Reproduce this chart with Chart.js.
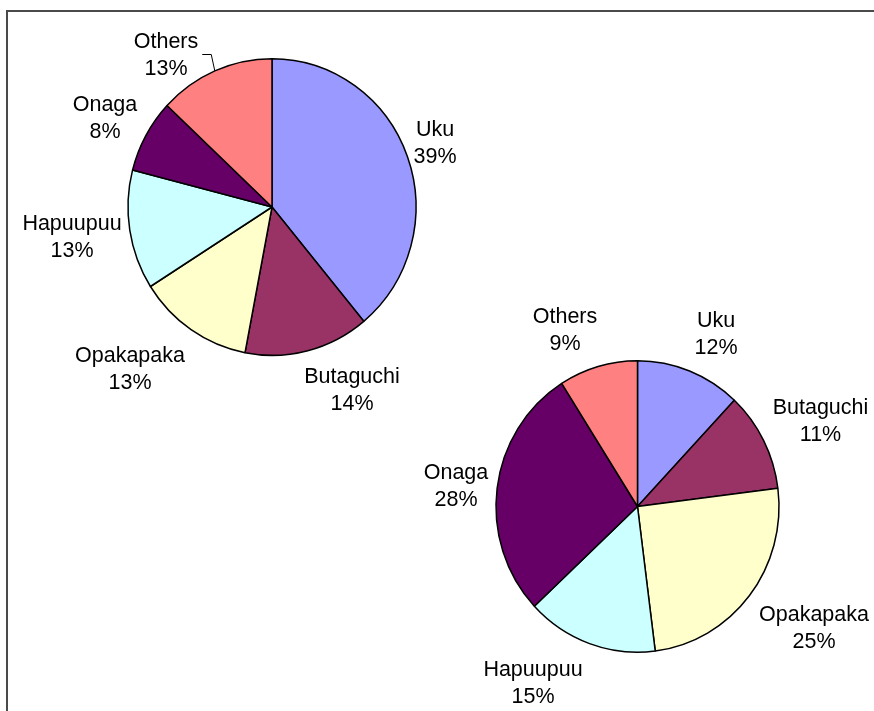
<!DOCTYPE html>
<html>
<head>
<meta charset="utf-8">
<script src="https://cdn.jsdelivr.net/npm/chart.js@4/dist/chart.umd.min.js"></script>
<style>
  html, body { margin: 0; padding: 0; background: #fff; }
  body { width: 874px; height: 711px; position: relative; overflow: hidden; }
  #frame {
    position: absolute; left: 6px; top: 10px; width: 900px; height: 720px;
    border-left: 2px solid #4a4a4a; border-top: 2px solid #4a4a4a;
  }
  canvas { position: absolute; left: 0; top: 0; }
</style>
</head>
<body>
<div id="frame"></div>
<canvas id="pieA" width="874" height="711"></canvas>
<canvas id="pieB" width="874" height="711"></canvas>
<script>
// categories (same for both pies)
const species = ['Uku', 'Butaguchi', 'Opakapaka', 'Hapuupuu', 'Onaga', 'Others'];
const sliceColors = ['#9999FF', '#993366', '#FFFFCC', '#CCFFFF', '#660066', '#FF8080'];

// share of each species, in percent
const catchA = [39, 14, 13, 13, 8, 13];
const catchB = [12, 11, 25, 15, 28, 9];

const W = 874, H = 711;
const STRETCH = 1.03; // the original pies are a touch taller than wide

// slightly stretch the pie vertically, like the Excel export
const stretchPie = {
  id: 'stretchPie',
  beforeDatasetsDraw(chart) {
    const arc = chart.getDatasetMeta(0).data[0];
    const ctx = chart.ctx;
    ctx.save();
    ctx.translate(arc.x, arc.y);
    ctx.scale(1, STRETCH);
    ctx.translate(-arc.x, -arc.y);
  },
  afterDatasetsDraw(chart) {
    chart.ctx.restore();
  }
};

// labels drawn outside the pie, like the Excel data labels
const outsideLabels = {
  id: 'outsideLabels',
  afterDraw(chart, args, opts) {
    const ctx = chart.ctx;
    const meta = chart.getDatasetMeta(0);
    const values = chart.data.datasets[0].data;
    const total = values.reduce((a, b) => a + b, 0);
    const fs = 21.5;
    ctx.save();
    ctx.font = fs + 'px "Liberation Sans", Arial, sans-serif';
    ctx.fillStyle = '#000';
    ctx.textAlign = 'center';
    ctx.textBaseline = 'alphabetic';
    meta.data.forEach((arc, i) => {
      const cx = arc.x, cy = arc.y;
      const off = opts.offsets[i];
      const bx = cx + off[0], by = cy + off[1];
      const name = chart.data.labels[i];
      const pct = Math.round(values[i] / total * 100) + '%';
      ctx.fillText(name, bx, by - 6);
      ctx.fillText(pct, bx, by + 21);
      if (opts.leader === i) {
        // small elbow line from the label to the slice edge
        const w = ctx.measureText(name).width;
        const mid = (arc.startAngle + arc.endAngle) / 2;
        const ex = cx + Math.cos(mid) * arc.outerRadius;
        const ey = cy + Math.sin(mid) * arc.outerRadius * STRETCH;
        const sx = bx + w / 2 + 4;
        ctx.strokeStyle = '#000';
        ctx.lineWidth = 1;
        ctx.beginPath();
        ctx.moveTo(sx, by + 0.5);
        ctx.lineTo(sx + 9, by + 0.5);
        ctx.lineTo(ex, ey);
        ctx.stroke();
      }
    });
    ctx.restore();
  }
};

function makePie(canvasId, values, center, radius, offsets, leader) {
  const half = radius + 6;
  new Chart(document.getElementById(canvasId), {
    type: 'pie',
    data: {
      labels: species,
      datasets: [{
        data: values,
        backgroundColor: sliceColors,
        borderColor: '#000',
        borderWidth: 1.5,
        radius: radius
      }]
    },
    options: {
      responsive: false,
      animation: false,
      events: [],
      layout: {
        padding: {
          left: center[0] - half,
          right: W - center[0] - half,
          top: center[1] - half,
          bottom: H - center[1] - half
        }
      },
      plugins: {
        legend: { display: false },
        tooltip: { enabled: false },
        outsideLabels: { offsets: offsets, leader: leader }
      }
    },
    plugins: [stretchPie, outsideLabels]
  });
}

makePie('pieA', catchA, [272, 207], 144,
  [[163, -65], [80, 182], [-142, 161], [-200, 29], [-167, -90], [-106, -153]], 5);

makePie('pieB', catchB, [637.5, 506.5], 141.5,
  [[78.5, -173.5], [183, -86.5], [176.5, 120.5], [-104.5, 175.5], [-181.5, -21.5], [-72.5, -177.5]], -1);
</script>
</body>
</html>
